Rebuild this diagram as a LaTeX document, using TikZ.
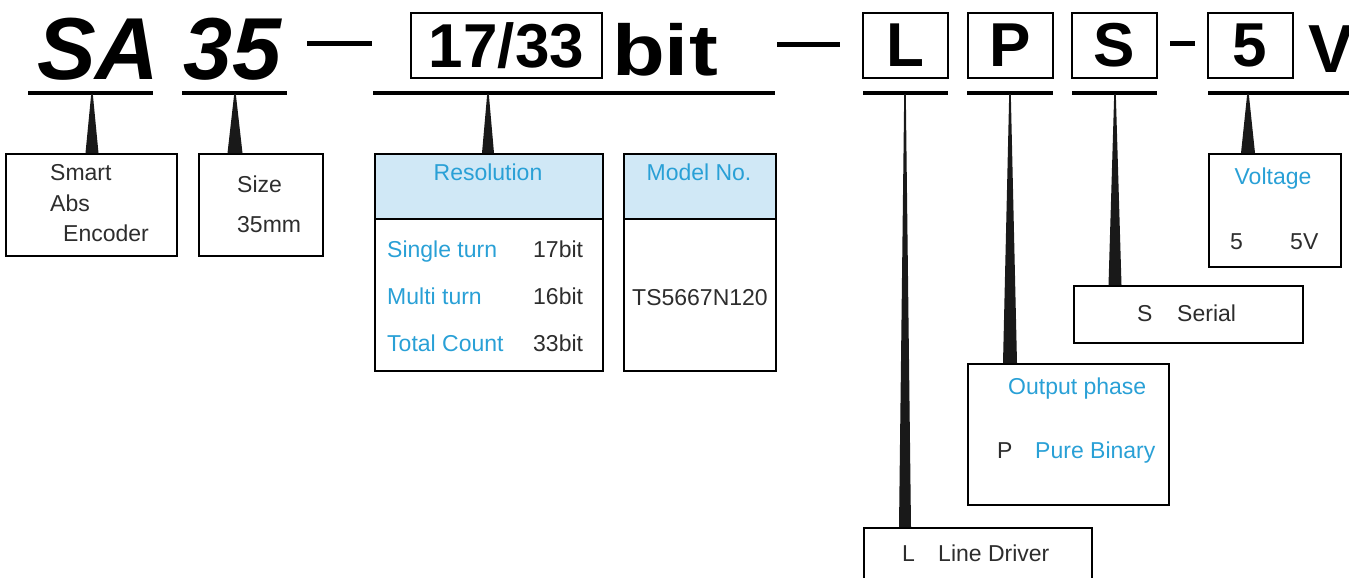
\documentclass[tikz,border=0pt]{standalone}
\usepackage{fontspec}
\setmainfont{Liberation Sans}
\usetikzlibrary{positioning,calc}
\definecolor{infoblue}{RGB}{41,160,214}
\definecolor{headfill}{RGB}{208,232,246}
\definecolor{txtgray}{RGB}{45,45,45}

\begin{document}
\begin{tikzpicture}[
        x=1pt, y=-1pt,
        codebox/.style = {draw, line width=2pt, minimum width=85pt, minimum height=65pt,
                          inner sep=0pt, font=\fontsize{62}{62}\selectfont\bfseries},
        bigtxt/.style  = {inner sep=0pt, anchor=base west,
                          font=\fontsize{88}{88}\selectfont\bfseries\itshape},
        infobox/.style = {draw, line width=1.6pt, inner sep=0pt, anchor=north west},
        lbl/.style     = {inner sep=0pt, anchor=base west, text=txtgray,
                          font=\fontsize{23}{23}\selectfont},
        blbl/.style    = {lbl, text=infoblue},
        uline/.style   = {line width=3.5pt},
        dashbar/.style = {line width=5pt},
        pointer/.style = {fill=black!90}
    ]
    \useasboundingbox (0,0) rectangle (1349,578);
    % code line
    \node[bigtxt] (sa)  at (37,80)  {SA};
    \node[bigtxt] (n35) at (183,80) {35};
    \node[codebox, minimum width=191pt] (cRes) at (506.5,45.5) {17/33};
    \node[inner sep=0pt, anchor=base west, font=\fontsize{72}{72}\selectfont\bfseries]
        (bit) at (612,76) {\scalebox{1.2}[1]{bit}};
    \node[codebox] (cL) at (905.5,45.5) {L};
    \node[codebox] (cP) at (1010,45.5)  {P};
    \node[codebox] (cS) at (1114.5,45.5) {S};
    \node[codebox] (c5) at (1250,45.5)  {5};
    \node[inner sep=0pt, anchor=base west, font=\fontsize{68}{68}\selectfont\bfseries]
        (vv) at (1308,73) {V};
    \draw[dashbar] (307,44) -- (372,44);
    \draw[dashbar] (777,45) -- (840,45);
    \draw[dashbar] (1170,44) -- (1195,44);
    % underlines
    \draw[uline] (28,93)   -- (153,93);
    \draw[uline] (182,93)  -- (287,93);
    \draw[uline] (373,93)  -- (775,93);
    \draw[uline] (863,93)  -- (948,93);
    \draw[uline] (967,93)  -- (1053,93);
    \draw[uline] (1072,93) -- (1157,93);
    \draw[uline] (1208,93) -- (1352,93);
    \coordinate (pSA)  at (92,94);
    \coordinate (p35)  at (235,94);
    \coordinate (pRes) at (488,94);
    \coordinate (pL)   at (905,94);
    \coordinate (pP)   at (1010,94);
    \coordinate (pS)   at (1115,94);
    \coordinate (p5)   at (1248,94);

    % boxes
    \node[infobox, minimum width=171pt, minimum height=102pt] (smart) at (5,153) {};
    \node[infobox, minimum width=124pt, minimum height=102pt] (size)  at (198,153) {};
    \node[infobox, fill=headfill, minimum width=228pt, minimum height=65pt] (reshead) at (374,153) {};
    \node[infobox, minimum width=228pt, minimum height=152pt] (res) at (374,218) {};
    \node[infobox, fill=headfill, minimum width=152pt, minimum height=65pt] (modhead) at (623,153) {};
    \node[infobox, minimum width=152pt, minimum height=152pt] (model) at (623,218) {};
    \node[infobox, minimum width=132pt, minimum height=113pt] (volt)   at (1208,153) {};
    \node[infobox, minimum width=229pt, minimum height=57pt]  (serial) at (1073,285) {};
    \node[infobox, minimum width=201pt, minimum height=141pt] (phase)  at (967,363) {};
    \node[infobox, minimum width=228pt, minimum height=70pt]  (line)   at (863,527) {};

    % pointers
    \foreach \p/\b/\w in {pSA/smart/6.5, p35/size/7.5, pRes/reshead/6, pL/line/6,
                          pP/phase/7, pS/serial/6.5, p5/volt/7}
        \fill[pointer] ($(\p)+(-0.8,0)$) -- ($(\p)+(0.8,0)$)
            -- ($(\p |- \b.north)+(\w,0)$) -- ($(\p |- \b.north)+(-\w,0)$) -- cycle;

    % texts
    \node[lbl] (tSmart) at (50,180) {Smart};
    \node[lbl] (tAbs)   at (50,211) {Abs};
    \node[lbl] (tEnc)   at (63,241) {Encoder};
    \node[lbl] (tSize)  at (237,192) {Size};
    \node[lbl] (tMm)    at (237,232) {35mm};
    \node[blbl, anchor=base] (tRes) at (488,180) {Resolution};
    \node[blbl] (tSingle) at (387,257) {Single turn};
    \node[blbl] (tMulti)  at (387,304) {Multi turn};
    \node[blbl] (tTotal)  at (387,351) {Total Count};
    \node[lbl] (v17) at (533,257) {17bit};
    \node[lbl] (v16) at (533,304) {16bit};
    \node[lbl] (v33) at (533,351) {33bit};
    \node[blbl, anchor=base] (tModel) at (699,180) {Model No.};
    \node[lbl, anchor=base] (tTS) at (700,305) {TS5667N120};
    \node[blbl, anchor=base] (tVolt) at (1273,184) {Voltage};
    \node[lbl] (t5)  at (1230,249) {5};
    \node[lbl] (t5V) at (1290,249) {5V};
    \node[lbl] (tS)      at (1137,321) {S};
    \node[lbl] (tSerial) at (1177,321) {Serial};
    \node[blbl] (tPhase) at (1008,394) {Output phase};
    \node[lbl]  (tP)     at (997,458)  {P};
    \node[blbl] (tPure)  at (1035,458) {Pure Binary};
    \node[lbl] (tL)    at (902,561) {L};
    \node[lbl] (tLine) at (938,561) {Line Driver};
\end{tikzpicture}
\end{document}
